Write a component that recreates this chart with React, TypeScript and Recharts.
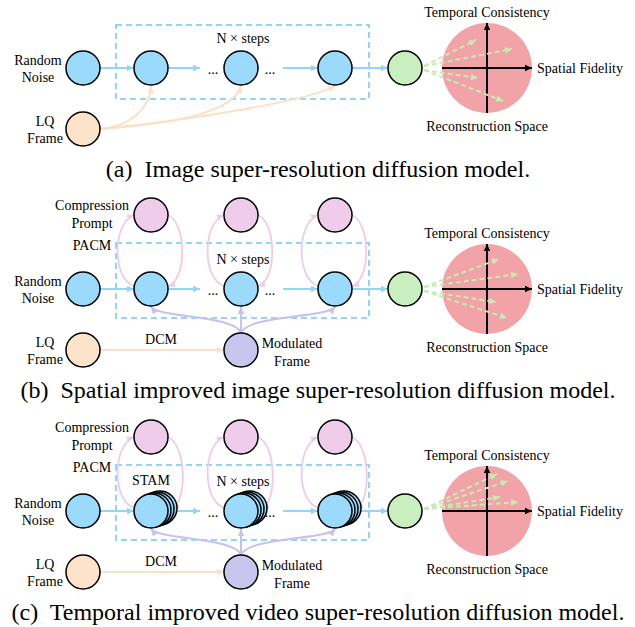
import { ReferenceArea, Scatter, ScatterChart, XAxis, YAxis } from "recharts";

if (typeof document !== "undefined") document.body.style.margin = "0";

const W = 635;
const H = 627;

// row centre (y) of each panel and its variant
const panelRow = [68, 289, 511];
const panelKind = ["plain", "spatial", "temporal"];
const captions = [
  "(a)  Image super-resolution diffusion model.",
  "(b)  Spatial improved image super-resolution diffusion model.",
  "(c)  Temporal improved video super-resolution diffusion model.",
];

// columns of the diagram
const noiseX = 83;
const stepX = [151, 241, 335];
const outX = 405;
const spaceX = 487;

// where the dashed green arrows land, relative to the space centre row
const fanEnds = [
  [[476, -28], [512, -19], [478, 10], [503, 33]],
  [[499, -30], [518, -15], [496, 13], [507, 29]],
  [[497, -37], [508, -30], [500, -14], [518, -9]],
];

// offsets of the stacked frames in panel (c)
const stackOffsets = [[9, -3], [6, -2], [3, -1]];

const C = {
  blue: "#9cdafc",
  blueLine: "#92d5f7",
  lq: "#fde3c9",
  lqLine: "#fce0c5",
  prompt: "#efcdea",
  promptLine: "#eecbe8",
  mod: "#c9c5ee",
  modLine: "#c7c1ef",
  out: "#c9efc0",
  fan: "#c5ecb5",
  space: "#f2a3a7",
};

type Pt = { x: number; y: number };
type Edge = { pts: Pt[]; color: string; width: number; dash?: string; head?: boolean };
type NodeD = { x: number; y: number; fill: string; r: number; stroke?: string };
type Label = { x: number; y: number; text: string; size: number; anchor?: string };

const nodes: NodeD[] = [];
const edges: Edge[] = [];
const labels: Label[] = [];
const boxes: { x1: number; x2: number; y1: number; y2: number }[] = [];

const p = (x: number, y: number): Pt => ({ x, y });

panelRow.forEach((y, i) => {
  const kind = panelKind[i];
  const lqY = y + 61;
  const promptY = y - 74;
  const stacked = kind === "temporal";

  // space circle + axes
  nodes.push({ x: spaceX, y, fill: C.space, r: 45, stroke: "none" });
  edges.push({ pts: [p(442, y), p(532, y)], color: "#000", width: 2, head: true });
  edges.push({ pts: [p(spaceX, y + 45), p(spaceX, y - 45)], color: "#000", width: 2, head: true });
  fanEnds[i].forEach(([ex, ey]) =>
    edges.push({ pts: [p(424, y + Math.sign(ey) * 2), p(ex, y + ey)], color: C.fan, width: 2, dash: "5 3", head: true }),
  );
  labels.push({ x: spaceX, y: y - 56, text: "Temporal Consistency", size: 14 });
  labels.push({ x: 537, y, text: "Spatial Fidelity", size: 14, anchor: "start" });
  labels.push({ x: spaceX, y: y + 58, text: "Reconstruction Space", size: 14 });

  // dashed box
  boxes.push({ x1: 116, x2: 369, y1: kind === "plain" ? y - 43 : y - 46, y2: kind === "plain" ? y + 31 : y + 29 });
  labels.push({ x: 243, y: y - 30, text: "N × steps", size: 14 });

  // main row arrows
  const rightEdge = stacked ? 26 : 17;
  edges.push({ pts: [p(noiseX + 17, y), p(stepX[0] - 17, y)], color: C.blueLine, width: 2, head: true });
  edges.push({ pts: [p(stepX[0] + rightEdge, y), p(200, y)], color: C.blueLine, width: 2, head: true });
  edges.push({ pts: [p(283, y), p(stepX[2] - 17, y)], color: C.blueLine, width: 2, head: true });
  edges.push({ pts: [p(stepX[2] + rightEdge, y), p(outX - 17, y)], color: C.blueLine, width: 2, head: true });
  labels.push({ x: 213, y: y + 1, text: "...", size: 14 });
  labels.push({ x: 270, y: y + 1, text: "...", size: 14 });

  if (kind === "plain") {
    edges.push({ pts: [p(100, lqY), p(130, lqY - 2), p(150, y + 40), p(stepX[0], y + 18)], color: C.lqLine, width: 2, head: true });
    edges.push({ pts: [p(100, lqY), p(180, lqY - 5), p(235, y + 42), p(stepX[1], y + 18)], color: C.lqLine, width: 2, head: true });
    edges.push({ pts: [p(100, lqY), p(200, lqY - 10), p(310, y + 32), p(stepX[2], y + 18)], color: C.lqLine, width: 2, head: true });
  } else {
    // prompt loops
    stepX.forEach((sx) => {
      edges.push({ pts: [p(sx - 16, y - 3), p(sx - 39, y - 8), p(sx - 39, promptY + 8), p(sx - 17, promptY)], color: C.promptLine, width: 1.8, head: true });
      const endX = stacked ? sx + 21 : sx + 17;
      edges.push({ pts: [p(sx + 17, promptY), p(sx + 36, promptY + 8), p(sx + 36, y - 8), p(endX, y - 3)], color: C.promptLine, width: 1.8, head: true });
      nodes.push({ x: sx, y: promptY, fill: C.prompt, r: 17 });
    });
    labels.push({ x: 92, y: promptY - 10, text: "Compression", size: 14 });
    labels.push({ x: 92, y: promptY + 8, text: "Prompt", size: 14 });
    labels.push({ x: 92, y: y - 44, text: "PACM", size: 14 });

    // DCM + modulation
    edges.push({ pts: [p(100, lqY), p(stepX[1] - 17, lqY)], color: C.lqLine, width: 2, head: true });
    labels.push({ x: 161, y: lqY - 11, text: "DCM", size: 14 });
    edges.push({ pts: [p(stepX[1], lqY - 17), p(235, y + 26), p(160, y + 29), p(stepX[0], y + 18)], color: C.modLine, width: 2, head: true });
    edges.push({ pts: [p(stepX[1], lqY - 17), p(stepX[1], y + 18)], color: C.modLine, width: 2, head: true });
    edges.push({ pts: [p(stepX[1], lqY - 17), p(247, y + 26), p(326, y + 29), p(stepX[2], y + 18)], color: C.modLine, width: 2, head: true });
    nodes.push({ x: stepX[1], y: lqY, fill: C.mod, r: 17 });
    labels.push({ x: 292, y: lqY - 7, text: "Modulated", size: 14 });
    labels.push({ x: 292, y: lqY + 11, text: "Frame", size: 14 });
  }
  if (stacked) labels.push({ x: stepX[0], y: y - 31, text: "STAM", size: 14 });

  // nodes
  nodes.push({ x: noiseX, y, fill: C.blue, r: 17 });
  stepX.forEach((sx) => {
    if (stacked) stackOffsets.forEach(([dx, dy]) => nodes.push({ x: sx + dx, y: y + dy, fill: C.blue, r: 17 }));
    nodes.push({ x: sx, y, fill: C.blue, r: 17 });
  });
  nodes.push({ x: outX, y, fill: C.out, r: 17 });
  nodes.push({ x: noiseX, y: lqY, fill: C.lq, r: 17 });

  labels.push({ x: 38, y: y - 8, text: "Random", size: 14 });
  labels.push({ x: 38, y: y + 9, text: "Noise", size: 14 });
  labels.push({ x: 45, y: lqY - 8, text: "LQ", size: 14 });
  labels.push({ x: 45, y: lqY + 9, text: "Frame", size: 14 });

  labels.push({ x: 318, y: y + 101, text: captions[i], size: 24 });
});

const FONT = "Liberation Serif, Times New Roman, serif";

function renderEdge(props: any, e: Edge) {
  const pts: Pt[] = props.points || [];
  if (pts.length < 2) return <g />;
  let d = `M${pts[0].x},${pts[0].y}`;
  if (pts.length === 4) d += ` C${pts[1].x},${pts[1].y} ${pts[2].x},${pts[2].y} ${pts[3].x},${pts[3].y}`;
  else if (pts.length === 3) d += ` Q${pts[1].x},${pts[1].y} ${pts[2].x},${pts[2].y}`;
  else d += pts.slice(1).map((q) => ` L${q.x},${q.y}`).join("");
  const end = pts[pts.length - 1];
  const prev = pts[pts.length - 2];
  const a = Math.atan2(end.y - prev.y, end.x - prev.x);
  const L = 7;
  const hw = 3.2;
  const bx = end.x - L * Math.cos(a);
  const by = end.y - L * Math.sin(a);
  const head = `${end.x},${end.y} ${bx - hw * Math.sin(a)},${by + hw * Math.cos(a)} ${bx + hw * Math.sin(a)},${by - hw * Math.cos(a)}`;
  return (
    <g>
      <path d={d} fill="none" stroke={e.color} strokeWidth={e.width} strokeDasharray={e.dash} />
      {e.head && <polygon points={head} fill={e.color} />}
    </g>
  );
}

const emptyShape = () => <g />;

const nodeShape = (props: any) => {
  const n: NodeD = props.payload;
  return <circle cx={props.cx} cy={props.cy} r={n.r} fill={n.fill} stroke={n.stroke ?? "#000"} strokeWidth={1.5} />;
};

const labelShape = (props: any) => {
  const l: Label = props.payload;
  return (
    <text
      x={props.cx}
      y={props.cy}
      fontSize={l.size}
      fontFamily={FONT}
      fill="#000"
      textAnchor={l.anchor ?? "middle"}
      dominantBaseline="central"
      style={{ whiteSpace: "pre" }}
    >
      {l.text}
    </text>
  );
};

const spaceNodes = nodes.filter((n) => n.stroke === "none");
const graphNodes = nodes.filter((n) => n.stroke !== "none");

export default function App() {
  return (
    <div style={{ background: "#fff", width: W, height: H }}>
      <ScatterChart width={W} height={H} margin={{ top: 0, right: 0, bottom: 0, left: 0 }}>
        <XAxis type="number" dataKey="x" domain={[0, W]} hide allowDataOverflow />
        <YAxis type="number" dataKey="y" domain={[0, H]} reversed hide allowDataOverflow />
        <Scatter data={spaceNodes} shape={nodeShape} isAnimationActive={false} />
        {boxes.map((b, i) => (
          <ReferenceArea
            key={`box${i}`}
            x1={b.x1}
            x2={b.x2}
            y1={b.y1}
            y2={b.y2}
            fill="none"
            fillOpacity={0}
            stroke={C.blueLine}
            strokeWidth={2}
            strokeDasharray="6 4"
            ifOverflow="visible"
          />
        ))}
        {edges.map((e, i) => (
          <Scatter
            key={`e${i}`}
            data={e.pts}
            shape={emptyShape}
            line={(props: any) => renderEdge(props, e)}
            lineType="joint"
            isAnimationActive={false}
          />
        ))}
        <Scatter data={graphNodes} shape={nodeShape} isAnimationActive={false} />
        <Scatter data={labels} shape={labelShape} isAnimationActive={false} />
      </ScatterChart>
    </div>
  );
}
